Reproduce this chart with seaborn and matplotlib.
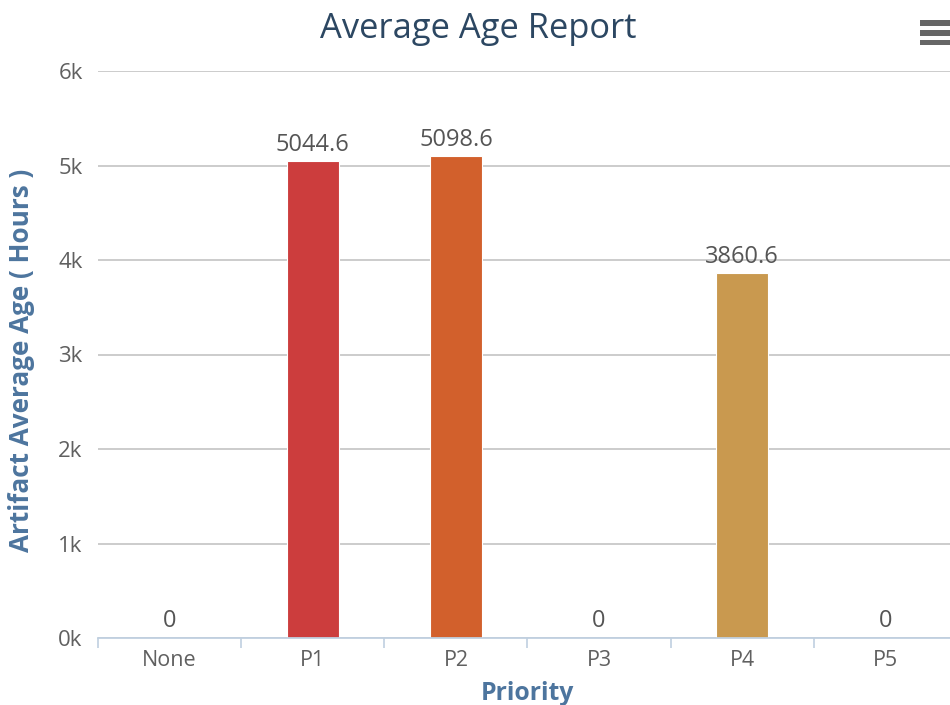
import matplotlib
matplotlib.use("Agg")
import matplotlib.pyplot as plt
from matplotlib.patches import Rectangle
from matplotlib.ticker import FixedLocator, FuncFormatter
import seaborn as sns
import pandas as pd

# Average artifact age per priority (hours)
priorities = ["None", "P1", "P2", "P3", "P4", "P5"]
avg_age_hours = [0, 5044.6, 5098.6, 0, 3860.6, 0]
bar_colors = ["#7cb5ec", "#cc3d3d", "#d2602c", "#8bbc21", "#c9994f", "#1aadce"]
y_ticks = [0, 1000, 2000, 3000, 4000, 5000, 6000]

df = pd.DataFrame({"Priority": priorities, "Age": avg_age_hours})

sns.set_theme(style="white")
plt.rcParams["font.family"] = ["Open Sans", "DejaVu Sans"]

W, H = 950, 705
fig = plt.figure(figsize=(W / 100, H / 100), dpi=100)
ax = fig.add_axes([98 / W, 1 - 638 / H, 859 / W, 567 / H])

sns.barplot(
    data=df, x="Priority", y="Age", hue="Priority",
    palette=dict(zip(priorities, bar_colors)), order=priorities,
    width=0.36, legend=False, ax=ax, edgecolor="white", linewidth=0.8,
    saturation=1,
)

ax.set_xlim(-0.5, len(priorities) - 0.5)
ax.set_ylim(0, 6000)

# value labels above each bar
for i, v in enumerate(avg_age_hours):
    ax.annotate(f"{v:g}", xy=(i, v), xytext=(0, 12), textcoords="offset points",
                ha="center", va="center", fontsize=17, color="#555555",
                annotation_clip=False)

# y axis
ax.yaxis.set_major_locator(FixedLocator(y_ticks))
ax.yaxis.set_major_formatter(FuncFormatter(lambda v, p: f"{int(v / 1000)}k"))
ax.tick_params(axis="y", length=0, pad=11, labelsize=16, labelcolor="#606060")
ax.grid(axis="y", color="#c8c8c8", linewidth=1.3)
ax.set_axisbelow(True)

# x axis: labels centred, tick marks at category boundaries
ax.set_xticks(range(len(priorities)))
ax.set_xticklabels(priorities)
ax.set_xticks([i - 0.5 for i in range(len(priorities) + 1)], minor=True)
ax.tick_params(axis="x", which="major", length=0, pad=9, labelsize=15.5,
               labelcolor="#606060")
ax.tick_params(axis="x", which="minor", length=7, width=1.2, color="#c0d0e0",
               direction="out", bottom=True)

for side in ["top", "right", "left"]:
    ax.spines[side].set_visible(False)
ax.spines["bottom"].set_color("#c0d0e0")
ax.spines["bottom"].set_linewidth(1.3)
ax.set_xlabel("")
ax.set_ylabel("")

# titles
fig.text(0.503, 1 - 29 / H, "Average Age Report", ha="center", va="center",
         fontsize=24.8, color="#2c4762")
fig.text((98 + 859 / 2) / W, 1 - 700 / H, "Priority", ha="center", va="baseline",
         fontsize=17.8, fontweight="bold", color="#4d759e")
fig.text(22 / W, 1 - 360 / H, "Artifact Average Age ( Hours )", ha="center",
         va="center", rotation=90, fontsize=18.8, fontweight="bold", color="#4d759e")

# menu button
for yc in (23, 33, 42.5):
    fig.add_artist(Rectangle((920 / W, 1 - (yc + 2.5) / H), 32 / W, 5 / H,
                             transform=fig.transFigure, facecolor="#666666",
                             edgecolor="none"))

fig.savefig("out.png", dpi=100)
